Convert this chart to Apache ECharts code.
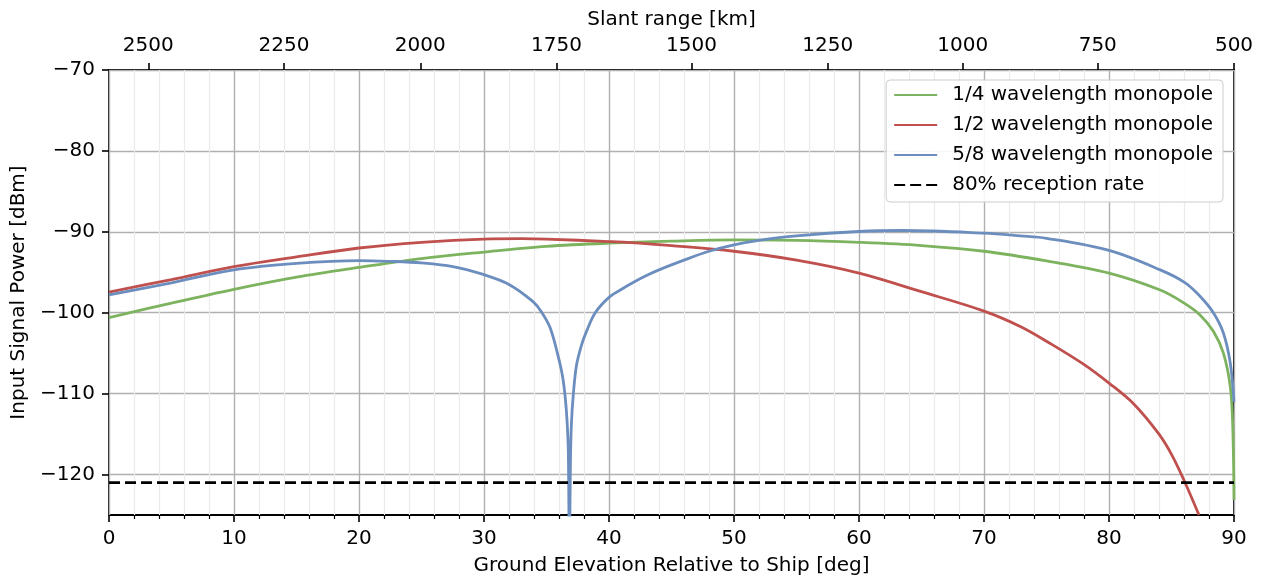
<!DOCTYPE html>
<html>
<head>
<meta charset="utf-8">
<script src="https://cdn.jsdelivr.net/npm/echarts@6/dist/echarts.min.js"></script>
<style>
  html, body { margin: 0; padding: 0; background: #fff; }
  #chart { width: 1266px; height: 582px; }
</style>
</head>
<body>
<div id="chart"></div>
<script>
// elevation [deg] and input power [dBm]
const quarterDeg = [0, 5, 10, 15, 20, 25, 30, 35, 40, 45, 50, 55, 60, 65, 70, 75, 80, 84.1, 86.1, 87.3, 88.35, 89.15, 89.7, 89.9, 90]
const quarterDbm = [-100.6, -98.8, -97.1, -95.6, -94.4, -93.3, -92.5, -91.8, -91.4, -91.15, -91.0, -91.05, -91.3, -91.7, -92.4, -93.6, -95.1, -97.2, -98.9, -100.3, -102.3, -105, -109.1, -114, -123.1]

const halfDeg = [0, 5, 10, 15, 20, 25, 30, 33, 35, 40, 41.4, 45, 50, 55, 60, 65, 70, 72.9, 75.3, 77.9, 80, 82, 84, 85, 86, 87.2]
const halfDbm = [-97.45, -95.9, -94.3, -93.1, -92.0, -91.3, -90.9, -90.85, -90.9, -91.2, -91.3, -91.7, -92.4, -93.5, -95.1, -97.4, -99.8, -101.7, -103.8, -106.3, -108.7, -111.3, -115.0, -117.5, -120.7, -125]

const fiveEighthDeg = [0, 5, 10, 15, 20, 22.5, 25, 27.5, 30, 32, 33.9, 34.6, 35.3, 36.0, 36.3, 36.5, 36.65, 36.75, 36.83, 36.92, 37.0, 37.15, 37.4, 37.8, 38.2, 38.9, 40, 41, 42, 43, 44, 46, 48, 50, 52, 55, 60, 63.5, 70, 72.9, 75, 80, 84.1, 86.1, 87.3, 88.35, 89.15, 89.7, 90]
const fiveEighthDbm = [-97.8, -96.3, -94.7, -93.9, -93.55, -93.65, -93.85, -94.3, -95.3, -96.5, -98.6, -99.9, -101.9, -105.8, -108.0, -110.5, -113.5, -117.5, -130, -118, -113.5, -110, -106.5, -104, -102.3, -100, -98.1, -97.1, -96.2, -95.4, -94.7, -93.5, -92.4, -91.6, -91.05, -90.5, -89.96, -89.84, -90.17, -90.5, -90.8, -92.3, -94.7, -96.3, -98.0, -100.0, -102.5, -106.2, -111]

const receptionDeg = [0, 90]
const receptionDbm = [-121, -121]

// top axis: slant range labels and where they sit on the elevation scale
const slantLabels = [2500, 2250, 2000, 1750, 1500, 1250, 1000, 750, 500]
const slantPos = [3.14, 14.0, 24.9, 35.8, 46.6, 57.5, 68.3, 79.1, 90]

const yTicks = [-120, -110, -100, -90, -80, -70]

const pairs = (xs, ys) => xs.map((x, i) => [x, ys[i]])
const minus = (v) => String(v).replace('-', '\u2212')

const font = 'DejaVu Sans'
const txt = { color: '#000', fontFamily: font, fontSize: 20 }

const chart = echarts.init(document.getElementById('chart'))

function line(name, xs, ys, color, extra) {
  return Object.assign({
    type: 'line',
    name,
    data: pairs(xs, ys),
    showSymbol: false,
    symbol: 'none',
    smooth: 0.35,
    clip: true,
    lineStyle: { width: 2.8, color },
    itemStyle: { color },
    emphasis: { disabled: true }
  }, extra || {})
}

chart.setOption({
  animation: false,
  textStyle: { fontFamily: font },
  grid: {
    left: 109, right: 32, top: 70, bottom: 67,
    show: true, borderColor: '#000', borderWidth: 1.8, backgroundColor: 'transparent'
  },
  legend: {
    orient: 'vertical',
    right: 43,
    top: 80,
    padding: [5, 10, 7, 7],
    itemWidth: 43,
    itemHeight: 14,
    itemGap: 10,
    itemStyle: { opacity: 0 },
    backgroundColor: 'rgba(255,255,255,0.9)',
    borderColor: '#cccccc',
    borderWidth: 1,
    borderRadius: 4,
    textStyle: Object.assign({}, txt, { padding: [0, 0, 0, 10] }),
    data: ['1/4 wavelength monopole', '1/2 wavelength monopole', '5/8 wavelength monopole', '80% reception rate']
  },
  xAxis: [
    {
      type: 'value',
      min: 0, max: 90, interval: 10,
      name: 'Ground Elevation Relative to Ship [deg]',
      nameLocation: 'middle',
      nameGap: 41,
      nameTextStyle: txt,
      axisLine: { show: false },
      axisTick: { show: true, length: 7, lineStyle: { color: '#000', width: 1.6 } },
      minorTick: { show: true, splitNumber: 5, length: 4, lineStyle: { color: '#000', width: 1.2 } },
      axisLabel: Object.assign({}, txt, { margin: 14 }),
      splitLine: { show: true, lineStyle: { color: '#b0b0b0', width: 1.4 } },
      minorSplitLine: { show: true, lineStyle: { color: '#ebebeb', width: 1.2 } }
    },
    {
      type: 'value',
      position: 'top',
      min: 0, max: 90,
      name: 'Slant range [km]',
      nameLocation: 'middle',
      nameGap: 40,
      nameTextStyle: txt,
      axisLine: { show: false },
      axisTick: { show: true, length: 7, customValues: slantPos, lineStyle: { color: '#000', width: 1.6 } },
      axisLabel: Object.assign({}, txt, {
        margin: 14,
        customValues: slantPos,
        formatter: (v) => {
          const i = slantPos.indexOf(v)
          return i >= 0 ? String(slantLabels[i]) : ''
        }
      }),
      splitLine: { show: false }
    }
  ],
  yAxis: {
    type: 'value',
    min: -125, max: -70,
    name: 'Input Signal Power [dBm]',
    nameLocation: 'middle',
    nameGap: 76,
    nameTextStyle: txt,
    axisLine: { show: false },
    axisTick: { show: true, length: 7, customValues: yTicks, lineStyle: { color: '#000', width: 1.6 } },
    axisLabel: Object.assign({}, txt, { margin: 14, customValues: yTicks, formatter: minus }),
    splitLine: { show: true, lineStyle: { color: '#b0b0b0', width: 1.4 } }
  },
  series: [
    line('1/4 wavelength monopole', quarterDeg, quarterDbm, '#7db35f'),
    line('1/2 wavelength monopole', halfDeg, halfDbm, '#c0504d'),
    line('5/8 wavelength monopole', fiveEighthDeg, fiveEighthDbm, '#6c8ebf'),
    line('80% reception rate', receptionDeg, receptionDbm, '#000', {
      smooth: false,
      lineStyle: { width: 2.8, color: '#000', type: [11, 5] }
    })
  ]
})
</script>
</body>
</html>
